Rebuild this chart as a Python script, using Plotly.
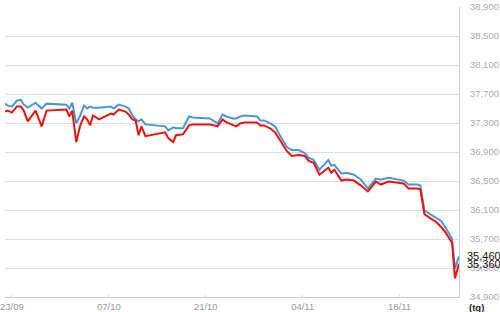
import plotly.graph_objects as go

# Time stamps (shared by both series)
times = [
    "2014-09-22 00:00", "2014-09-22 10:00", "2014-09-23 00:00", "2014-09-23 17:00",
    "2014-09-24 07:00", "2014-09-24 17:00", "2014-09-25 07:00", "2014-09-26 10:00",
    "2014-09-27 07:00", "2014-09-28 00:00", "2014-09-30 21:00", "2014-10-01 07:00",
    "2014-10-01 17:00", "2014-10-02 07:00", "2014-10-02 21:00", "2014-10-03 10:00",
    "2014-10-03 21:00", "2014-10-04 07:00", "2014-10-04 17:00", "2014-10-05 14:00",
    "2014-10-07 07:00", "2014-10-07 17:00", "2014-10-08 10:00", "2014-10-09 10:00",
    "2014-10-09 21:00", "2014-10-10 10:00", "2014-10-10 21:00", "2014-10-11 07:00",
    "2014-10-11 17:00", "2014-10-12 07:00", "2014-10-15 03:00", "2014-10-15 14:00",
    "2014-10-16 07:00", "2014-10-16 17:00", "2014-10-17 17:00", "2014-10-18 14:00",
    "2014-10-19 03:00", "2014-10-21 14:00", "2014-10-22 17:00", "2014-10-23 10:00",
    "2014-10-24 00:00", "2014-10-24 21:00", "2014-10-25 10:00", "2014-10-26 00:00",
    "2014-10-26 14:00", "2014-10-28 10:00", "2014-10-28 21:00", "2014-10-29 10:00",
    "2014-10-30 07:00", "2014-10-31 00:00", "2014-10-31 17:00", "2014-11-01 17:00",
    "2014-11-02 10:00", "2014-11-03 10:00", "2014-11-04 07:00", "2014-11-04 21:00",
    "2014-11-05 14:00", "2014-11-06 10:00", "2014-11-07 17:00", "2014-11-08 03:00",
    "2014-11-08 14:00", "2014-11-09 14:00", "2014-11-10 07:00", "2014-11-11 10:00",
    "2014-11-12 10:00", "2014-11-13 10:00", "2014-11-14 14:00", "2014-11-15 07:00",
    "2014-11-16 10:00", "2014-11-17 17:00", "2014-11-18 14:00", "2014-11-19 07:00",
    "2014-11-20 14:00", "2014-11-21 00:00", "2014-11-21 14:00", "2014-11-22 10:00",
    "2014-11-23 07:00", "2014-11-24 00:00", "2014-11-24 14:00", "2014-11-25 14:00",
    "2014-11-26 00:00", "2014-11-26 14:00",
]

# Upper series (blue)
blue_values = [
    37567, 37540, 37526, 37607, 37620, 37553, 37512, 37580,
    37499, 37567, 37553, 37499, 37580, 37295, 37403, 37540,
    37499, 37526, 37512, 37512, 37526, 37499, 37553, 37526,
    37499, 37403, 37349, 37322, 37349, 37281, 37254, 37199,
    37240, 37227, 37227, 37390, 37376, 37363, 37295, 37417,
    37390, 37363, 37363, 37390, 37403, 37390, 37335, 37335,
    37295, 37254, 37131, 36968, 36927, 36927, 36886, 36818,
    36791, 36655, 36791, 36710, 36723, 36601, 36614, 36587,
    36519, 36397, 36533, 36519, 36546, 36519, 36506, 36451,
    36451, 36437, 36097, 36043, 35989, 35948, 35866, 35703,
    35295, 35460,
]

# Lower series (red)
red_values = [
    37458, 37471, 37444, 37526, 37526, 37471, 37322, 37471,
    37254, 37471, 37485, 37390, 37471, 37036, 37267, 37390,
    37349, 37267, 37403, 37349, 37431, 37417, 37485, 37458,
    37417, 37349, 37335, 37131, 37254, 37118, 37172, 37091,
    37036, 37131, 37145, 37267, 37281, 37281, 37254, 37349,
    37308, 37281, 37254, 37295, 37308, 37308, 37267, 37267,
    37227, 37172, 37063, 36914, 36846, 36859, 36846, 36778,
    36750, 36587, 36682, 36614, 36655, 36506, 36519, 36506,
    36437, 36356, 36492, 36451, 36492, 36478, 36465, 36397,
    36397, 36383, 36043, 35989, 35934, 35866, 35798, 35648,
    35159, 35360,
]

last_labels = ["35,460", "35,360"]
x_tick_vals = ["2014-09-23", "2014-10-07", "2014-10-21", "2014-11-04", "2014-11-18"]
x_tick_text = ["23/09", "07/10", "21/10", "04/11", "18/11"]
unit_label = "(tg)"

fig = go.Figure()
fig.add_trace(go.Scatter(x=times, y=blue_values, mode="lines",
                         line=dict(color="#4b97d0", width=2), showlegend=False))
fig.add_trace(go.Scatter(x=times, y=red_values, mode="lines",
                         line=dict(color="#f01010", width=2), showlegend=False))

fig.update_layout(
    width=500, height=312,
    margin=dict(l=0, r=41, t=7, b=11),
    paper_bgcolor="white", plot_bgcolor="white",
    font=dict(family="Liberation Sans, Arial, sans-serif", size=9, color="#aaaaaa"),
)
fig.update_xaxes(
    range=["2014-09-22 00:00", "2014-11-26 14:00"],
    tickvals=x_tick_vals, ticktext=x_tick_text,
    showgrid=False, showline=True, linecolor="#cccccc", linewidth=1,
    ticks="inside", ticklen=3, tickcolor="#dddddd",
    tickfont=dict(size=9.5, color="#999999"), zeroline=False,
    ticklabeloverflow="allow", ticklabelstandoff=1,
)
fig.update_yaxes(
    side="right", range=[34900, 38900], dtick=400, tick0=34900,
    tickformat=",d", showgrid=True, gridcolor="#dddddd", gridwidth=1,
    showline=True, linecolor="#cccccc", linewidth=1, zeroline=False,
    ticks="", ticklabelstandoff=8,
    tickfont=dict(size=9.5, color="#aaaaaa"),
)

for val, lab in zip([blue_values[-1], red_values[-1]], last_labels):
    fig.add_annotation(x=1, xref="paper", y=val, yref="y", text=lab,
                       showarrow=False, xanchor="left", yanchor="middle", xshift=6,
                       font=dict(size=11, color="#111111", family="Liberation Sans, Arial"))

fig.add_annotation(x=1, xref="paper", y=0, yref="paper", text="<b>" + unit_label + "</b>",
                   showarrow=False, xanchor="left", yanchor="top", xshift=8, yshift=-3,
                   font=dict(size=9.5, color="#222222", family="Liberation Sans, Arial"))

fig.write_html("out.html")
